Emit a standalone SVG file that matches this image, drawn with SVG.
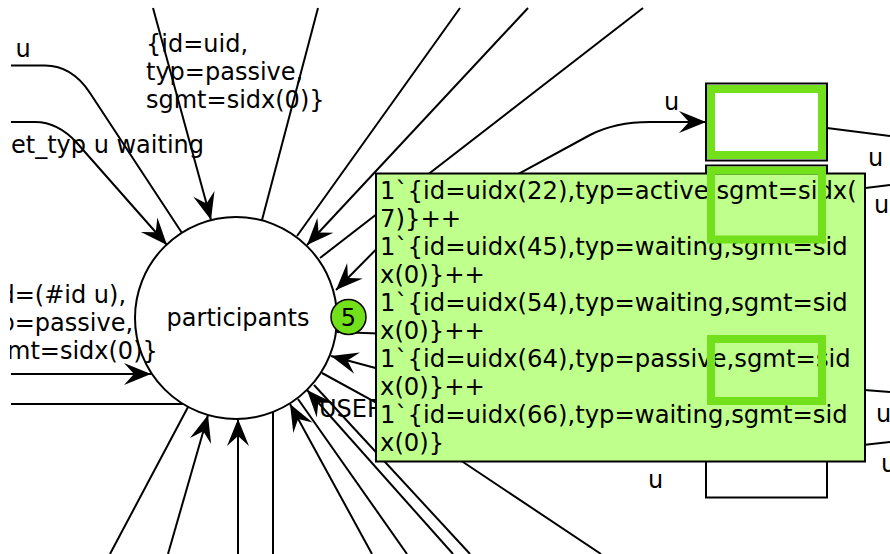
<svg xmlns="http://www.w3.org/2000/svg" width="890" height="554" viewBox="0 0 890 554">
<style>
.c{fill:none;stroke:#000;stroke-width:2}
.t{font-family:"DejaVu Sans","Liberation Sans",sans-serif;font-size:24px;fill:#000}
.tt{font-size:24.3px}
.hl{fill:none;stroke:#72e11c;stroke-width:8}
.tr{fill:#fff;stroke:#000;stroke-width:2}
</style>
<defs>
<marker id="arr" markerUnits="userSpaceOnUse" markerWidth="32" markerHeight="26" viewBox="-29 -13 32 26" refX="0" refY="0" orient="auto">
<path d="M0,0 L-27,-11 L-17,0 L-27,11 Z" fill="#000"/>
</marker>
<clipPath id="lc"><rect x="10" y="0" width="880" height="554"/></clipPath>
</defs>
<rect width="890" height="554" fill="#fff"/>
<g id="connectors">
<path class="c" d="M11,65.5 L45,65.5 Q72,65.5 90,93 L182,233"/>
<path class="c" d="M11,122 L35,122 Q58,122 77,143 L167,245" marker-end="url(#arr)"/>
<path class="c" d="M153,8 L211,220" marker-end="url(#arr)"/>
<path class="c" d="M318,8 L262,220"/>
<path class="c" d="M460,8 L297,236"/>
<path class="c" d="M528,8 L307,245" marker-end="url(#arr)"/>
<path class="c" d="M643,8 L320,258"/>
<path class="c" d="M500,184 L590,135 Q615,122 650,122 L706,122" marker-end="url(#arr)"/>
<path class="c" d="M420,205 L336,290" marker-end="url(#arr)"/>
<path class="c" d="M337,332 L420,335"/>
<path class="c" d="M420,380 L331,356" marker-end="url(#arr)"/>
<path class="c" d="M322,373 L377,403 L463,462 L601,554"/>
<path class="c" d="M11,374 L151,374" marker-end="url(#arr)"/>
<path class="c" d="M11,404 L184,404"/>
<path class="c" d="M110,554 L188,407"/>
<path class="c" d="M168,554 L208,415" marker-end="url(#arr)"/>
<path class="c" d="M238,554 L238,419" marker-end="url(#arr)"/>
<path class="c" d="M273,554 L273,412"/>
<path class="c" d="M372,554 L290,404" marker-end="url(#arr)"/>
<path class="c" d="M407,554 L298,399"/>
<path class="c" d="M453,554 L307,390" marker-end="url(#arr)"/>
<path class="c" d="M470,554 L314,385"/>
<path class="c" d="M827,128 L890,136"/>
<path class="c" d="M800,196 L890,185"/>
<path class="c" d="M800,385 L890,392"/>
<path class="c" d="M800,452 L890,442"/>
</g>
<g id="participants">
<circle cx="236" cy="318" r="101" fill="#fff" stroke="#000" stroke-width="2"/>
<text class="t" x="238" y="326" text-anchor="middle">participants</text>
</g>
<g id="transition1"><rect class="tr" x="706" y="83.5" width="121" height="77"/></g>
<g id="transition2"><rect class="tr" x="706" y="165.5" width="121" height="78"/></g>
<g id="transition3"><rect class="tr" x="706" y="334" width="121" height="75"/></g>
<g id="transition4"><rect class="tr" x="706" y="420.5" width="121" height="77"/></g>
<g id="labels">
<text class="t" x="15.5" y="57">u</text>
<text class="t" x="146" y="52">{id=uid,</text>
<text class="t" x="146" y="80">typ=passive,</text>
<text class="t" x="146" y="108">sgmt=sidx(0)}</text>
<text class="t" x="11" y="153">et_typ u waiting</text>
<g clip-path="url(#lc)">
<text class="t" x="-0.5" y="303">d=(#id u),</text>
<text class="t" x="-0.5" y="331">p=passive,</text>
<text class="t" x="7" y="359">mt=sidx(0)}</text>
</g>
<text class="t" x="319" y="417">USER</text>
<text class="t" x="664" y="110">u</text>
<text class="t" x="868" y="166">u</text>
<text class="t" x="874" y="213">u</text>
<text class="t" x="876" y="422">u</text>
<text class="t" x="881" y="472">u</text>
<text class="t" x="648" y="488">u</text>
</g>
<g id="token">
<circle cx="348.5" cy="317" r="17.5" fill="#72e11c" stroke="#000" stroke-width="1.5"/>
<text class="t" x="348.5" y="325.5" text-anchor="middle">5</text>
</g>
<g id="tooltip">
<rect x="376" y="173.5" width="489" height="288" fill="#bfff8c" stroke="#000" stroke-width="2"/>
<text class="t tt" x="380" y="199">1`{id=uidx(22),typ=active,sgmt=sidx(</text>
<text class="t tt" x="380" y="227">7)}++</text>
<text class="t tt" x="380" y="255">1`{id=uidx(45),typ=waiting,sgmt=sid</text>
<text class="t tt" x="380" y="283">x(0)}++</text>
<text class="t tt" x="380" y="311">1`{id=uidx(54),typ=waiting,sgmt=sid</text>
<text class="t tt" x="380" y="339">x(0)}++</text>
<text class="t tt" x="380" y="367">1`{id=uidx(64),typ=passive,sgmt=sid</text>
<text class="t tt" x="380" y="395">x(0)}++</text>
<text class="t tt" x="380" y="423">1`{id=uidx(66),typ=waiting,sgmt=sid</text>
<text class="t tt" x="380" y="451">x(0)}</text>
</g>
<g id="highlights">
<rect class="hl" x="711" y="89" width="111" height="66"/>
<rect class="hl" x="711" y="170.5" width="111" height="69"/>
<rect class="hl" x="711" y="339" width="111" height="62"/>
</g>
</svg>
